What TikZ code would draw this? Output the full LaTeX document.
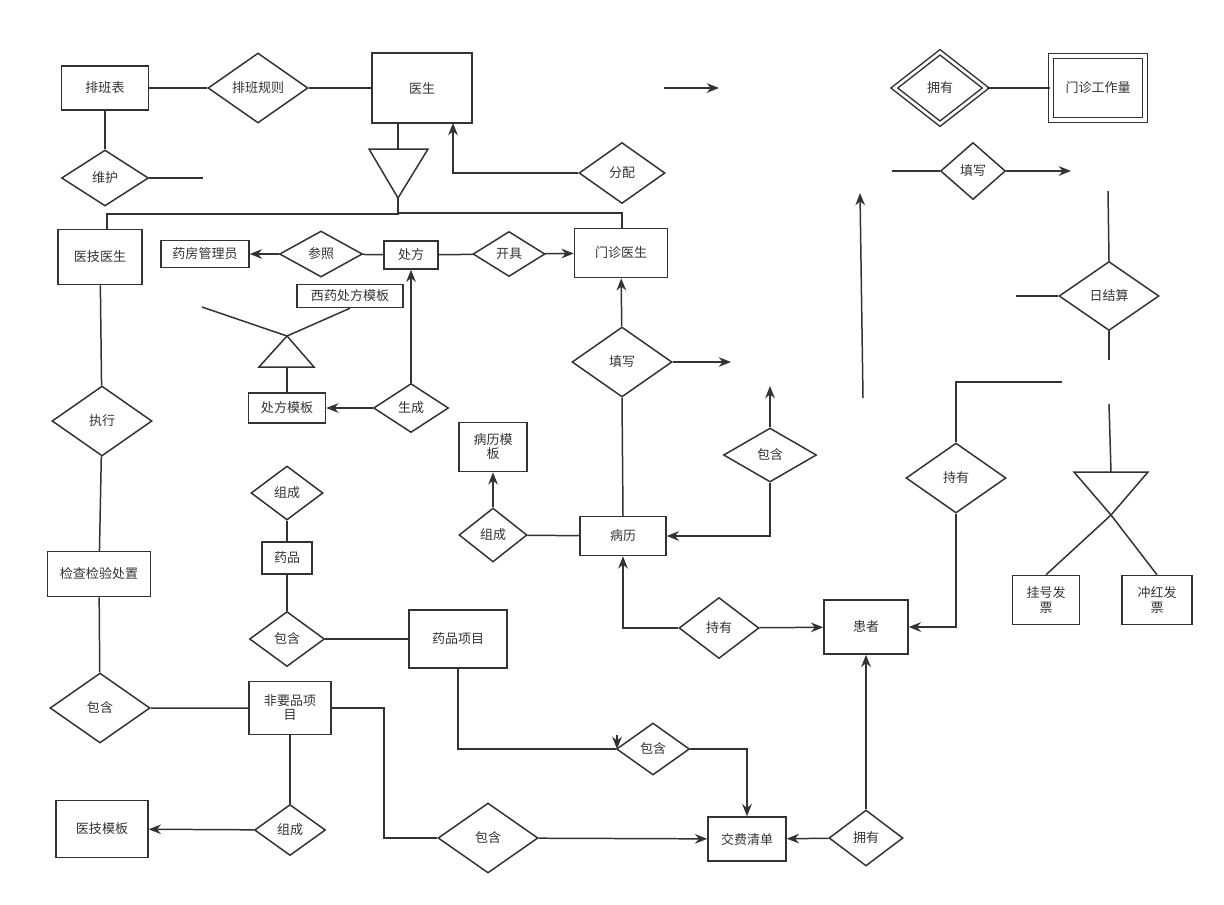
\documentclass[tikz,border=0pt]{standalone}
\usepackage{fontspec}
\newfontfamily\cjk{Noto Sans CJK SC}
\usetikzlibrary{arrows.meta}
\usetikzlibrary{shapes.geometric}
\definecolor{linegray}{HTML}{333333}
\tikzset{
	ent/.style 2 args={draw=linegray, rectangle, inner sep=1pt, align=center,
		minimum width=#1*0.02cm, minimum height=#2*0.02cm},
	rel/.style 2 args={draw=linegray, diamond, inner sep=0pt, align=center,
		minimum width=#1*0.02cm, minimum height=#2*0.02cm},
	arr/.style={-{Stealth[length=7pt,width=5.5pt]}}
}
\begin{document}
\begin{tikzpicture}[x=0.02cm, y=-0.02cm, line width=0.85pt, color=linegray,
		font=\cjk\fontsize{7.4}{8}\selectfont]
	\useasboundingbox (0,0) rectangle (1224,904);
	
	% top left
	\node[ent={87}{44}] (pbb) at (105,88) {排班表};
	\node[rel={100}{70}] (pbgz) at (258,88) {排班规则};
	\node[ent={100}{70}] (ys) at (422,88) {医生};
	\node[rel={87}{56}] (wh) at (105,178) {维护};
	\coordinate (whe) at (203,178);
	\draw (pbb) -- (pbgz) -- (ys);
	\draw (pbb.south) -- (wh.north);
	\draw (wh.east) -- (whe);
	
	% isa of doctor
	\coordinate (t1a) at (369,149);
	\coordinate (t1b) at (428,149);
	\coordinate (t1c) at (398,198);
	\draw (t1a) -- (t1b) -- (t1c) -- cycle;
	\draw (398,123) -- (398,149);
	\node[ent={84}{55}] (yjys) at (100,257) {医技医生};
	\node[ent={93}{49}] (mzys) at (621,253) {门诊医生};
	\draw (t1c) -- (398,214) -- (107,214) -- (107,230);
	\draw (t1c) -- (398,213) -- (622,213) -- (622,229);
	\node[rel={86}{61}] (fp) at (622,173) {分配};
	\draw[arr] (fp.west) -| (453,123);
	
	% prescription
	\node[ent={88}{27}] (yfgly) at (205,254) {药房管理员};
	\node[rel={83}{46}] (cz) at (321,254) {参照};
	\node[ent={54}{28}] (cf) at (411,255) {处方};
	\node[rel={72}{45}] (kj) at (509,254) {开具};
	\draw[arr] (cz) -- (yfgly);
	\draw (cz) -- (cf) -- (kj);
	\draw[arr] (kj) -- (mzys);
	\node[ent={106}{23}] (xycf) at (350,296) {西药处方模板};
	\coordinate (t2a) at (287,336);
	\coordinate (t2b) at (259,367);
	\coordinate (t2c) at (314,367);
	\coordinate (t2e) at (202,307);
	\draw (t2a) -- (t2b) -- (t2c) -- cycle;
	\draw (t2e) -- (t2a) -- (xycf.south);
	\node[ent={77}{30}] (cfmb) at (287,408) {处方模板};
	\node[rel={75}{49}] (sc) at (411,408) {生成};
	\draw (287,367) -- (cfmb.north);
	\draw[arr] (sc) -- (cfmb);
	\draw[arr] (sc.north) -- (cf.south);
	
	% medical technician branch
	\node[rel={100}{70}] (zx) at (102,421) {执行};
	\node[ent={103}{45}] (jcjy) at (99,574) {检查检验处置};
	\node[rel={100}{70}] (bh1) at (100,708) {包含};
	\node[ent={82}{53}] (fyp) at (290,708) {非要品项\\目};
	\node[ent={92}{57}] (yjmb) at (102,829) {医技模板};
	\node[rel={71}{51}] (zc1) at (290,830) {组成};
	\draw (yjys) -- (zx) -- (jcjy) -- (bh1) -- (fyp);
	\draw (fyp) -- (zc1);
	\draw[arr] (zc1) -- (yjmb);
	
	% drugs
	\node[rel={72}{54}] (zc2) at (287,493) {组成};
	\node[ent={50}{32}] (yp) at (287,558) {药品};
	\node[rel={75}{55}] (bh2) at (287,639) {包含};
	\node[ent={98}{58}] (ypxm) at (458,639) {药品项目};
	\draw (zc2) -- (yp) -- (bh2) -- (ypxm);
	\node[rel={73}{52}] (bh3) at (653,749) {包含};
	\node[ent={78}{44}] (jfqd) at (747,839) {交费清单};
	\draw (ypxm.south) |- (bh3.west);
	\draw[arr] (617,735) -- (617,749);
	\draw[arr] (bh3.east) -| (jfqd.north);
	\node[rel={100}{70}] (bh4) at (488,838) {包含};
	\draw (fyp.east) -| (384,838) -- (bh4.west);
	\draw[arr] (bh4) -- (jfqd);
	\node[rel={74}{56}] (yy1) at (866,838) {拥有};
	\node[ent={84}{54}] (hz) at (866,627) {患者};
	\draw[arr] (yy1) -- (jfqd);
	\draw[arr] (yy1) -- (hz);
	
	% medical record
	\node[rel={80}{61}] (cy1) at (719,628) {持有};
	\node[ent={86}{39}] (bl) at (623,536) {病历};
	\draw[arr] (cy1) -- (hz);
	\draw[arr] (cy1.west) -| (bl.south);
	\node[rel={68}{54}] (zc3) at (493,535) {组成};
	\node[ent={68}{49}] (blmb) at (493,447) {病历模\\板};
	\draw (bl) -- (zc3);
	\draw[arr] (zc3) -- (blmb);
	\node[rel={100}{70}] (tx1) at (622,362) {填写};
	\coordinate (tx1e) at (731,362);
	\draw (bl.north) -- (tx1.south);
	\draw[arr] (tx1) -- (mzys);
	\draw[arr] (tx1.east) -- (tx1e);
	\node[rel={93}{54}] (bh5) at (770,455) {包含};
	\coordinate (bh5e) at (770,386);
	\draw[arr] (bh5.south) |- (bl.east);
	\draw[arr] (bh5.north) -- (bh5e);
	\draw[arr] (863,398) -- (860,193);
	
	% top right
	\draw[arr] (664,88) -- (719,88);
	\node[rel={92}{72}, double, double distance=1.5pt] (yy2) at (940,88) {拥有};
	\node[ent={94}{64}, double, double distance=2pt] (mzgzl) at (1098,88) {门诊工作量};
	\draw (yy2) -- (mzgzl);
	\node[rel={65}{57}] (tx2) at (973,171) {填写};
	\draw (892,171) -- (tx2.west);
	\draw[arr] (tx2.east) -- (1071,171);
	\node[rel={100}{69}] (rjs) at (1109,296) {日结算};
	\draw (1108,191) -- (rjs.north);
	\draw (1016,296) -- (rjs.west);
	\draw (rjs.south) -- (1109,360);
	\node[rel={100}{70}] (cy2) at (956,478) {持有};
	\draw (1062,382) -| (cy2.north);
	\draw[arr] (cy2.south) |- (hz.east);
	
	% invoices
	\coordinate (t3a) at (1074,472);
	\coordinate (t3b) at (1148,472);
	\coordinate (t3c) at (1111,515);
	\draw (t3a) -- (t3b) -- (t3c) -- cycle;
	\draw (1109,404) -- (1111,472);
	\node[ent={67}{49}] (ghfp) at (1046,600) {挂号发\\票};
	\node[ent={70}{49}] (chfp) at (1157,600) {冲红发\\票};
	\draw (t3c) -- (ghfp.north);
	\draw (t3c) -- (chfp.north);
\end{tikzpicture}
\end{document}
